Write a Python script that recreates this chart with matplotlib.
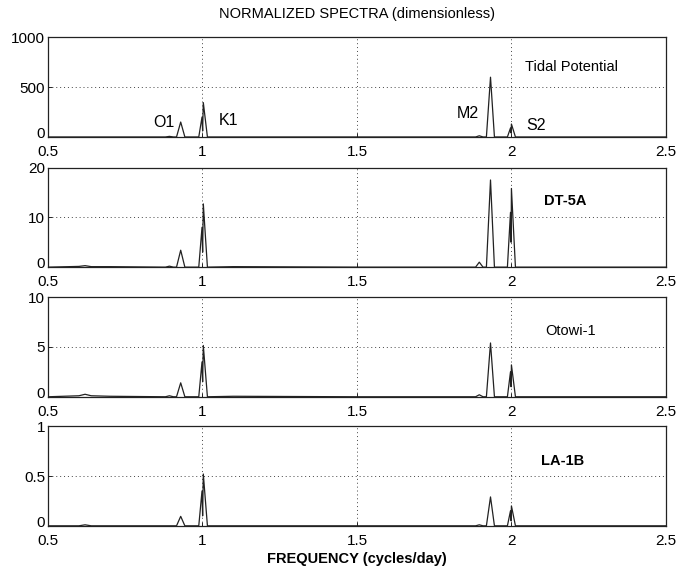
import matplotlib
matplotlib.use("Agg")
import matplotlib.pyplot as plt
import matplotlib.transforms as mtransforms

plt.rcParams["font.family"] = ["Liberation Sans", "DejaVu Sans"]
plt.rcParams["font.size"] = 10

# common frequency samples (cycles/day)
freq = [0.50, 0.60, 0.62, 0.64, 0.70, 0.88, 0.893, 0.906, 0.916, 0.9295, 0.943,
        0.988, 0.9985, 1.0005, 1.0027, 1.016, 1.10, 1.50, 1.884, 1.896, 1.908, 1.919,
        1.9323, 1.945, 1.987, 1.997, 1.999, 2.0, 2.013, 2.5]

tidal = [0, 0, 0, 0, 0, 0, 6, 0, 0, 150, 0, 0, 200, 60, 345, 0, 0, 0, 0, 12, 0, 0,
         600, 0, 0, 90, 40, 130, 0, 0]
dt5a = [0, 0.15, 0.3, 0.1, 0.1, 0, 0.2, 0, 0, 3.4, 0, 0, 8, 3, 12.7, 0, 0.1, 0, 0, 1.0,
        0, 0, 17.5, 0, 0, 11, 5, 15.8, 0, 0]
otowi = [0, 0.1, 0.25, 0.1, 0.05, 0, 0.1, 0, 0, 1.4, 0, 0, 3.5, 1.5, 5.15, 0, 0.05, 0,
         0, 0.2, 0, 0, 5.4, 0, 0, 2.5, 1.0, 3.2, 0, 0]
la1b = [0, 0, 0.01, 0, 0, 0, 0, 0, 0, 0.095, 0, 0, 0.35, 0.1, 0.52, 0, 0, 0, 0, 0.01,
        0, 0, 0.29, 0, 0, 0.15, 0.05, 0.2, 0, 0]

series = [tidal, dt5a, otowi, la1b]
names = ["Tidal Potential", "DT-5A", "Otowi-1", "LA-1B"]
weights = ["normal", "bold", "normal", "bold"]
name_x = [2.196, 2.173, 2.19, 2.165]
name_y = [0.70, 0.66, 0.66, 0.65]
ymax = [1000, 20, 10, 1]
yticklabels = [["0", "500", "1000"], ["0", "10", "20"], ["0", "5", "10"], ["0", "0.5", "1"]]
xticks = [0.5, 1, 1.5, 2, 2.5]
xticklabels = ["0.5", "1", "1.5", "2", "2.5"]

constituents = ["O1", "K1", "M2", "S2"]
const_pos = [(0.875, 150), (1.085, 170), (1.86, 240), (2.08, 115)]

fig = plt.figure(figsize=(6.79, 5.66), dpi=100)
bottoms = [0.758, 0.528, 0.299, 0.071]
height = 0.176
# nudge the y "0" label up a little so it sits just above the x "0.5"
lift = mtransforms.ScaledTranslation(0, 3 / 72, fig.dpi_scale_trans)

for i, vals in enumerate(series):
    ax = fig.add_axes([0.0707, bottoms[i], 0.910, height])
    ax.plot(freq, vals, color="#222222", linewidth=0.9)
    ax.set_xlim(0.5, 2.5)
    ax.set_ylim(0, ymax[i])
    ax.set_xticks(xticks)
    ax.set_xticklabels(xticklabels)
    ax.set_yticks([0, ymax[i] / 2, ymax[i]])
    ax.set_yticklabels(yticklabels[i])
    ax.tick_params(direction="in", length=3, width=0.6, labelsize=11)
    ax.tick_params(axis="x", pad=6)
    ax.tick_params(axis="y", pad=2)
    zero_lab = ax.get_yticklabels()[0]
    zero_lab.set_transform(zero_lab.get_transform() + lift)
    ax.grid(True, linestyle=(0, (1, 3)), color="#444444", linewidth=0.7)
    for s in ax.spines.values():
        s.set_linewidth(0.9)
        s.set_color("#222222")
    ax.text(name_x[i], ymax[i] * name_y[i], names[i], ha="center", va="center",
            fontsize=10.5, fontweight=weights[i])
    if i == 0:
        for lab, (x, y) in zip(constituents, const_pos):
            ax.text(x, y, lab, ha="center", va="center", fontsize=11.5)
        ax.set_title("NORMALIZED SPECTRA (dimensionless)", fontsize=10.5, pad=14)
    if i == 3:
        ax.set_xlabel("FREQUENCY (cycles/day)", fontsize=10.5, fontweight="bold",
                      labelpad=3)

fig.savefig("out.png", dpi=100)
